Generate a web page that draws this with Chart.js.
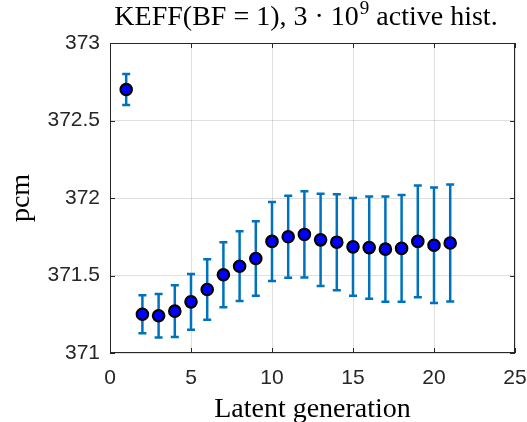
<!DOCTYPE html>
<html>
<head>
<meta charset="utf-8">
<script src="https://cdn.jsdelivr.net/npm/chart.js@4"></script>
<style>
    html, body { margin: 0; padding: 0; background: #fff; }
</style>
</head>
<body>
<canvas id="chart" width="527" height="422"></canvas>
<script>
const generations = [1, 2, 3, 4, 5, 6, 7, 8, 9, 10, 11, 12, 13, 14, 15, 16, 17, 18, 19, 20, 21];
const keffPcm = [372.70, 371.25, 371.24, 371.27, 371.33, 371.41, 371.505, 371.56, 371.61, 371.72,
    371.75, 371.765, 371.73, 371.715, 371.685, 371.68, 371.67, 371.675, 371.72, 371.695, 371.71];
const errPcm = [0.10, 0.122, 0.14, 0.167, 0.18, 0.195, 0.21, 0.225, 0.24, 0.255,
    0.265, 0.278, 0.297, 0.31, 0.315, 0.33, 0.34, 0.345, 0.36, 0.372, 0.377];
const xTicks = [0, 5, 10, 15, 20, 25];
const yTicks = [371, 371.5, 372, 372.5, 373];

const axisColor = "#262626";
const tickFont = { family: "Liberation Sans", size: 21 };
const serif = "Liberation Serif";

const ctx = document.getElementById("chart");

// vertical error bars with caps, under the markers
const errorBars = {
    id: "errorBars",
    beforeDatasetsDraw(chart) {
        const { ctx, scales } = chart;
        ctx.save();
        ctx.strokeStyle = "#0072BD";
        ctx.lineWidth = 2.5;
        generations.forEach((g, i) => {
            const x = scales.x.getPixelForValue(g);
            const yt = scales.y.getPixelForValue(keffPcm[i] + errPcm[i]);
            const yb = scales.y.getPixelForValue(keffPcm[i] - errPcm[i]);
            ctx.beginPath();
            ctx.moveTo(x, yt);
            ctx.lineTo(x, yb);
            ctx.moveTo(x - 4, yt);
            ctx.lineTo(x + 4, yt);
            ctx.moveTo(x - 4, yb);
            ctx.lineTo(x + 4, yb);
            ctx.stroke();
        });
        ctx.restore();
    },
};

// matlab style box + inward ticks, and the title with a superscript
const boxAndTitle = {
    id: "boxAndTitle",
    afterDraw(chart) {
        const { ctx, chartArea: a, scales } = chart;
        ctx.save();
        ctx.strokeStyle = axisColor;
        ctx.lineWidth = 1;
        ctx.strokeRect(a.left + 0.5, a.top + 0.5, a.right - a.left - 1, a.bottom - a.top - 1);
        ctx.beginPath();
        xTicks.forEach((t) => {
            const x = Math.round(scales.x.getPixelForValue(t)) + 0.5;
            ctx.moveTo(x, a.bottom);
            ctx.lineTo(x, a.bottom - 5);
            ctx.moveTo(x, a.top);
            ctx.lineTo(x, a.top + 5);
        });
        yTicks.forEach((t) => {
            const y = Math.round(scales.y.getPixelForValue(t)) + 0.5;
            ctx.moveTo(a.left, y);
            ctx.lineTo(a.left + 5, y);
            ctx.moveTo(a.right, y);
            ctx.lineTo(a.right - 5, y);
        });
        ctx.stroke();

        const main = "KEFF(BF = 1), 3 \u00b7 10";
        const sup = "9";
        const rest = " active hist.";
        ctx.fillStyle = "#000";
        ctx.textBaseline = "alphabetic";
        ctx.font = "28px " + serif;
        const w1 = ctx.measureText(main).width;
        const w3 = ctx.measureText(rest).width;
        ctx.font = "19px " + serif;
        const w2 = ctx.measureText(sup).width;
        const cx = (a.left + a.right) / 2 - 7;
        let x = cx - (w1 + w2 + w3) / 2;
        const base = 25;
        ctx.font = "28px " + serif;
        ctx.fillText(main, x, base);
        x += w1;
        ctx.font = "19px " + serif;
        ctx.fillText(sup, x + 1, base - 11);
        x += w2 + 1;
        ctx.font = "28px " + serif;
        ctx.fillText(rest, x, base);
        ctx.restore();
    },
};

new Chart(ctx, {
    type: "scatter",
    data: {
        datasets: [
            {
                label: "KEFF",
                data: generations.map((g, i) => ({ x: g, y: keffPcm[i] })),
                pointRadius: 5.7,
                pointBackgroundColor: "#0000FF",
                pointBorderColor: "#000000",
                pointBorderWidth: 2.2,
                showLine: false,
            },
        ],
    },
    options: {
        responsive: false,
        animation: false,
        layout: { padding: { top: 43, right: 12, left: 0, bottom: 0 } },
        plugins: {
            legend: { display: false },
            tooltip: { enabled: false },
        },
        scales: {
            x: {
                type: "linear",
                min: 0,
                max: 25,
                afterFit: (s) => {
                    s.height = 69;
                    s.paddingLeft = 0;
                    s.paddingRight = 0;
                },
                afterBuildTicks: (s) => { s.ticks = xTicks.map((v) => ({ value: v })); },
                ticks: { font: tickFont, color: axisColor, padding: 13, callback: (v) => String(v) },
                grid: { color: "rgba(38,38,38,0.15)", drawTicks: false },
                border: { display: false },
                title: {
                    display: true,
                    text: "Latent generation",
                    font: { family: serif, size: 28 },
                    color: "#000",
                    padding: { top: 0, bottom: -4 },
                },
            },
            y: {
                min: 371,
                max: 373,
                afterFit: (s) => {
                    s.width = 110;
                    s.paddingTop = 0;
                    s.paddingBottom = 0;
                },
                afterBuildTicks: (s) => { s.ticks = yTicks.map((v) => ({ value: v })); },
                ticks: { font: tickFont, color: axisColor, padding: 10, callback: (v) => String(v) },
                grid: { color: "rgba(38,38,38,0.15)", drawTicks: false },
                border: { display: false },
                title: {
                    display: true,
                    text: "pcm",
                    font: { family: serif, size: 28 },
                    color: "#000",
                    padding: { top: 5, bottom: 0 },
                },
            },
        },
    },
    plugins: [errorBars, boxAndTitle],
});
</script>
</body>
</html>
